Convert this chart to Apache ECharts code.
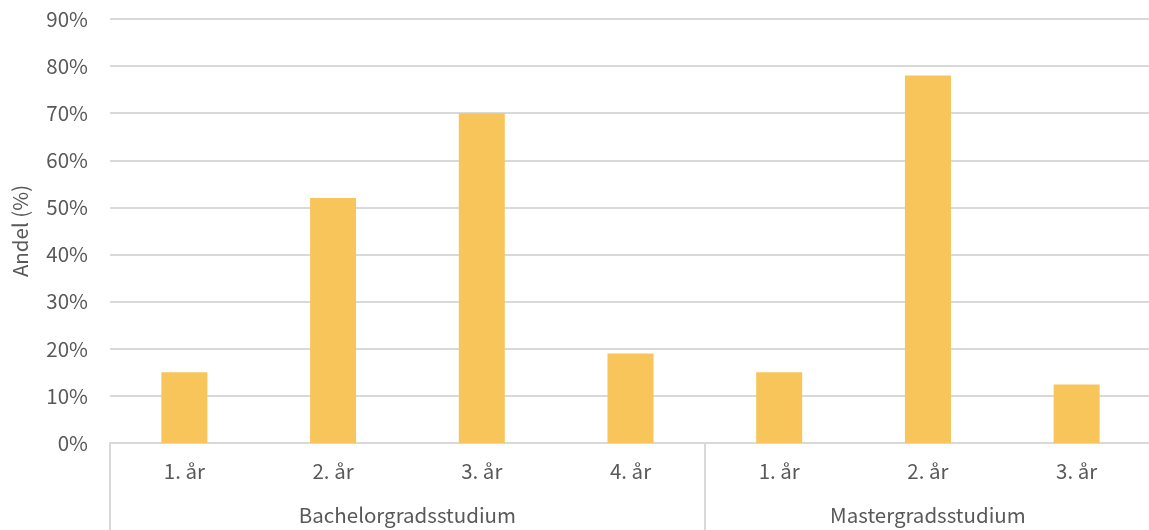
<!DOCTYPE html>
<html><head><meta charset="utf-8">
<script src="https://cdn.jsdelivr.net/npm/echarts@6/dist/echarts.min.js"></script>
<style>html,body{margin:0;padding:0;background:#fff}#c{width:1149px;height:530px}</style>
</head><body><div id="c"></div>
<script>
const categories = ['1. år','2. år','3. år','4. år','1. år','2. år','3. år'];
const values = [15, 52, 70, 19, 15, 78, 12.4];
const groupNames = ['Bachelorgradsstudium','Mastergradsstudium'];
const groupSizes = [4, 3];
const yTicks = [0,10,20,30,40,50,60,70,80,90];

const FONT = '"Noto Sans CJK JP", "Noto Sans", sans-serif';
const FS = 20.5;
const TXT = '#595959';
const LINE = '#d9d9d9';

// group boundaries and centers in category units
const bounds = [0]; const centers = [];
groupSizes.forEach(s => { const b = bounds[bounds.length-1]; centers.push(b + s/2); bounds.push(b + s); });
const total = bounds[bounds.length-1];

const chart = echarts.init(document.getElementById('c'));
chart.setOption({
  animation: false,
  grid: { left: 110, right: -2, top: 19, bottom: 87, containLabel: false, outerBoundsMode: 'none' },
  xAxis: [{
    type: 'category', data: categories, position: 'bottom',
    axisLine: { show: true, lineStyle: { color: LINE, width: 2 } },
    axisTick: { show: false },
    axisLabel: { color: TXT, fontSize: FS, fontFamily: FONT, margin: 18 }
  }, {
    type: 'value', min: 0, max: total, position: 'bottom',
    axisLine: { show: false },
    splitLine: { show: false },
    axisTick: { show: true, customValues: bounds, length: 90, lineStyle: { color: LINE, width: 2 } },
    axisLabel: {
      customValues: centers, color: TXT, fontSize: FS, fontFamily: FONT, margin: 62,
      formatter: v => { const i = centers.indexOf(v); return i >= 0 ? groupNames[i] : ''; }
    }
  }],
  yAxis: {
    type: 'value', min: yTicks[0], max: yTicks[yTicks.length-1], interval: yTicks[1]-yTicks[0],
    name: 'Andel (%)', nameLocation: 'middle', nameGap: 80,
    nameTextStyle: { color: TXT, fontSize: FS, fontFamily: FONT },
    axisLine: { show: false }, axisTick: { show: false },
    axisLabel: { color: TXT, fontSize: FS, fontFamily: FONT, margin: 22, formatter: v => v + '%' },
    splitLine: { lineStyle: { color: LINE, width: 2 } }
  },
  series: [{
    type: 'bar', data: values, xAxisIndex: 0, barWidth: 46,
    itemStyle: { color: '#F7C55A' }
  }]
});
</script></body></html>
